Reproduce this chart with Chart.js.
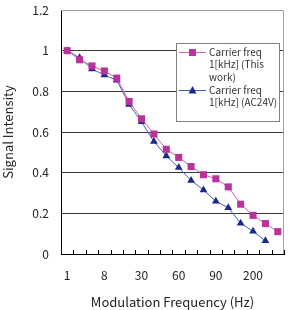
<!DOCTYPE html>
<html>
<head>
<meta charset="utf-8">
<script src="https://cdn.jsdelivr.net/npm/chart.js@4.4.1/dist/chart.umd.min.js"></script>
<style>
  html, body { margin: 0; padding: 0; background: #ffffff; }
  #wrap { width: 289px; height: 310px; position: relative; }
</style>
</head>
<body>
<div id="wrap"><canvas id="chart"></canvas></div>
<script>
// category labels (only every third one is printed, as in the original)
const freqLabels = ["1", "2", "4", "8", "10", "20", "30", "40", "50", "60", "70", "80", "90", "100", "150", "200", "250", "300"];
const thisWork = [1.0, 0.955, 0.925, 0.90, 0.865, 0.75, 0.665, 0.59, 0.515, 0.475, 0.43, 0.39, 0.37, 0.33, 0.245, 0.19, 0.15, 0.11];
const ac24v = [1.0, 0.965, 0.91, 0.88, 0.855, 0.735, 0.65, 0.553, 0.482, 0.425, 0.362, 0.315, 0.259, 0.228, 0.151, 0.112, 0.065];
const legendLines = [
    ["Carrier freq", "1[kHz] (This", "work)"],
    ["Carrier freq", "1[kHz] (AC24V)"]
];

const FONT = "'Noto Sans CJK JP', 'Liberation Sans', sans-serif";

/* frame, inner tick marks and legend */
const extras = {
    id: "extras",
    afterDraw(chart) {
        const ctx = chart.ctx;
        const a = chart.chartArea;
        const x = chart.scales.x;
        ctx.save();

        // top + right border of plot area
        ctx.strokeStyle = "#a0a0a0";
        ctx.lineWidth = 1;
        ctx.beginPath();
        ctx.moveTo(a.left, a.top + 0.5);
        ctx.lineTo(a.right - 0.5, a.top + 0.5);
        ctx.lineTo(a.right - 0.5, a.bottom);
        ctx.stroke();

        // small tick marks pointing up from the x axis, between categories
        ctx.strokeStyle = "#000000";
        ctx.beginPath();
        const n = freqLabels.length;
        const step = (x.getPixelForValue(1) - x.getPixelForValue(0));
        for (let i = 0; i <= n; i++) {
            const px = Math.round(x.getPixelForValue(0) - step / 2 + i * step) + 0.5;
            ctx.moveTo(px, a.bottom);
            ctx.lineTo(px, a.bottom - 4);
        }
        ctx.stroke();

        // legend box
        const bx = 176, by = 43, bw = 103, bh = 78;
        ctx.fillStyle = "#ffffff";
        ctx.fillRect(bx, by, bw, bh);
        ctx.strokeStyle = "#808080";
        ctx.strokeRect(bx + 0.5, by + 0.5, bw, bh);

        const rows = [52, 90];
        chart.data.datasets.forEach(function (ds, k) {
            const y = rows[k];
            ctx.strokeStyle = ds.borderColor;
            ctx.lineWidth = 1;
            ctx.beginPath();
            ctx.moveTo(179, y + 0.5);
            ctx.lineTo(206, y + 0.5);
            ctx.stroke();
            ctx.fillStyle = ds.pointBackgroundColor;
            ctx.beginPath();
            if (ds.pointStyle === "rect") {
                ctx.rect(189, y - 3, 7, 7);
            } else {
                ctx.moveTo(192.5, y - 4);
                ctx.lineTo(196.5, y + 3.5);
                ctx.lineTo(188.5, y + 3.5);
                ctx.closePath();
            }
            ctx.fill();

            ctx.fillStyle = "#333333";
            ctx.font = "10px " + FONT;
            ctx.textBaseline = "middle";
            ctx.textAlign = "left";
            legendLines[k].forEach(function (t, j) {
                ctx.fillText(t, 209, y + j * 12.5);
            });
        });
        ctx.restore();
    }
};

new Chart(document.getElementById("chart"), {
    type: "line",
    data: {
        labels: freqLabels,
        datasets: [{
            label: "Carrier freq 1[kHz] (This work)",
            data: thisWork,
            borderColor: "#d060b8",
            borderWidth: 1,
            pointStyle: "rect",
            pointRadius: 5,
            pointBackgroundColor: "#b8339a",
            pointBorderColor: "#b8339a",
            pointBorderWidth: 0,
            tension: 0
        }, {
            label: "Carrier freq 1[kHz] (AC24V)",
            data: ac24v,
            borderColor: "#4a5cb0",
            borderWidth: 1,
            pointStyle: "triangle",
            pointRadius: 4.5,
            pointBackgroundColor: "#1a2a8c",
            pointBorderColor: "#1a2a8c",
            pointBorderWidth: 0,
            tension: 0
        }]
    },
    options: {
        responsive: true,
        maintainAspectRatio: false,
        animation: false,
        layout: { padding: { top: 10, right: 4, left: 0, bottom: 0 } },
        plugins: {
            legend: { display: false },
            tooltip: { enabled: false }
        },
        scales: {
            x: {
                offset: true,
                grid: { display: false, drawTicks: false, offset: true },
                border: { color: "#000000", width: 1 },
                ticks: {
                    autoSkip: false,
                    maxRotation: 0,
                    padding: 14,
                    color: "#222222",
                    font: { family: FONT, size: 12 },
                    callback: function (v, i) {
                        return i % 3 === 0 ? freqLabels[i] : "";
                    }
                },
                title: {
                    display: true,
                    text: "Modulation Frequency (Hz)",
                    color: "#222222",
                    font: { family: FONT, size: 13 },
                    padding: { top: 0, bottom: 0 }
                },
                afterFit: function (s) {
                    s.height = 56;
                    s.paddingLeft = 0;
                    s.paddingRight = 0;
                }
            },
            y: {
                min: 0,
                max: 1.2,
                grid: {
                    drawTicks: false,
                    color: function (c) {
                        if (c.tick && c.tick.value >= 1.2) return "rgba(0,0,0,0)";
                        return "#3a3a3a";
                    }
                },
                border: { color: "#000000", width: 1 },
                ticks: {
                    stepSize: 0.2,
                    padding: 12,
                    color: "#222222",
                    font: { family: FONT, size: 12 },
                    callback: function (v) { return Math.round(v * 10) / 10; }
                },
                title: {
                    display: true,
                    text: "Signal Intensity",
                    color: "#222222",
                    font: { family: FONT, size: 13 },
                    padding: { top: 0, bottom: 0 }
                },
                afterFit: function (s) {
                    s.width = 61;
                    s.paddingTop = 0;
                    s.paddingBottom = 0;
                }
            }
        }
    },
    plugins: [extras]
});
</script>
</body>
</html>
